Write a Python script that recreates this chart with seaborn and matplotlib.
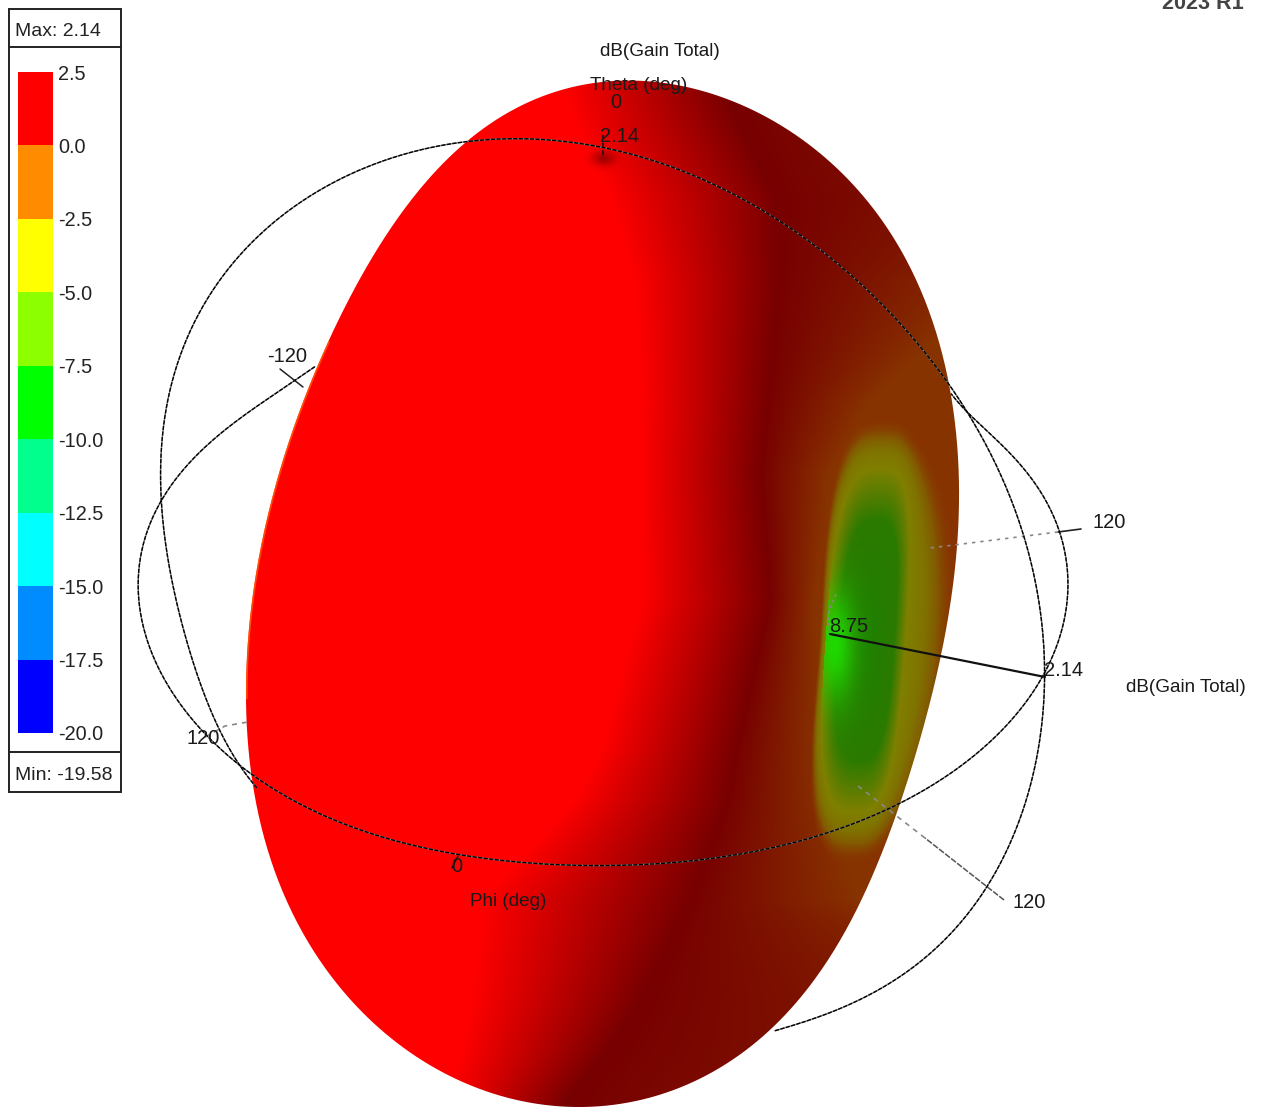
import numpy as np
import matplotlib
matplotlib.use("Agg")
import matplotlib.pyplot as plt
from matplotlib.colors import ListedColormap
from matplotlib.patches import PathPatch, Rectangle
from matplotlib.path import Path
import seaborn as sns

W, H = 1261, 1107

# legend
levels = [2.5, 0.0, -2.5, -5.0, -7.5, -10.0, -12.5, -15.0, -17.5, -20.0]
band_colors = ["#ff0000", "#ff8c00", "#ffff00", "#8cff00", "#00ff00",
               "#00ff8c", "#00ffff", "#008cff", "#0000ff"]
max_label = "Max: 2.14"
min_label = "Min: -19.58"

# silhouette of the gain surface
body_x = [590, 640, 690, 730, 760, 793, 860, 910, 943, 953, 958, 957, 943, 920, 890, 873, 830, 773, 707, 640,
          567, 500, 440, 370, 330, 293, 270, 253, 247, 250, 265, 285, 315, 360, 410, 460, 520, 560]
body_y = [83, 82, 88, 102, 116, 133, 190, 270, 347, 413, 480, 540, 647, 740, 840, 867, 957, 1027, 1077, 1100,
          1107, 1093, 1073, 1020, 970, 918, 860, 790, 700, 620, 530, 450, 370, 280, 205, 145, 105, 87]

# shading bands per row: where red ends, where it is darkest, where it turns brown
shade_y = [80, 115, 200, 280, 400, 470, 600, 750, 800, 900, 1000, 1050, 1090, 1110]
red_end = [560, 570, 610, 633, 640, 640, 640, 600, 573, 480, 470, 460, 450, 450]
dark_x = [720, 735, 776, 777, 767, 760, 770, 735, 727, 690, 640, 607, 573, 560]
brown_x = [1200, 1200, 1200, 1000, 870, 830, 815, 820, 825, 860, 1100, 1200, 1200, 1200]

# wire frame curves
phi_x = [315, 250, 190, 150, 137, 163, 217, 253, 340, 440, 607, 773, 840, 902, 940, 980, 1013, 1045, 1053,
         1069, 1060, 1033, 997, 950]
phi_y = [368, 410, 465, 520, 580, 680, 743, 773, 825, 850, 867, 847, 830, 802, 780, 750, 717, 675, 655,
         587, 530, 483, 440, 395]
theta_x = [253, 218, 197, 170, 162, 172, 205, 270, 350, 450, 510, 560, 603, 693, 793, 877, 947, 983, 1020,
           1043, 1045, 1033, 1010, 970, 920, 840, 773]
theta_y = [788, 723, 680, 570, 480, 380, 300, 225, 175, 145, 138, 140, 147, 175, 230, 300, 380, 440, 523,
           640, 707, 773, 840, 915, 960, 1010, 1030]

number_labels = [("0", 610, 103), ("2.14", 600, 137), ("-120", 267, 356), ("120", 1092, 522), ("8.75", 829, 626),
                 ("2.14", 1044, 670), ("120", 186, 738), ("0", 451, 867), ("120", 1013, 902)]
word_labels = [("dB(Gain Total)", 600, 52), ("Theta (deg)", 590, 86), ("dB(Gain Total)", 1126, 688),
               ("Phi (deg)", 470, 902)]


def smooth(xs, ys, closed=False, n=24):
    # catmull-rom through the read points
    p = np.column_stack([xs, ys]).astype(float)
    if closed:
        p = np.vstack([p[-1], p, p[:2]])
    else:
        p = np.vstack([p[0], p, p[-1]])
    out = []
    t = np.linspace(0, 1, n, endpoint=False)[:, None]
    for i in range(1, len(p) - 2):
        a, b, c, d = p[i - 1], p[i], p[i + 1], p[i + 2]
        out.append(0.5 * (2 * b + (c - a) * t + (2 * a - 5 * b + 4 * c - d) * t ** 2
                          + (3 * b - a - 3 * c + d) * t ** 3))
    return np.vstack(out + [p[-2][None, :]])


def by_length(c, n=720):
    s = np.r_[0, np.cumsum(np.hypot(*np.diff(c, axis=0).T))]
    t = np.linspace(0, s[-1], n)
    return np.column_stack([np.interp(t, s, c[:, 0]), np.interp(t, s, c[:, 1])])


def closed_outline(xs, ys, keep=6):
    # drop the wiggle of hand read points
    c = by_length(smooth(xs, ys, closed=True))[:-1]
    z = np.fft.fft(c[:, 0] + 1j * c[:, 1])
    f = np.abs(np.fft.fftfreq(len(c), 1 / len(c)))
    z[f > keep] = 0
    z = np.fft.ifft(z)
    return np.column_stack([z.real, z.imag])


def open_curve(xs, ys, deg=11):
    c = by_length(smooth(xs, ys))
    t = np.linspace(-1, 1, len(c))
    cheb = np.polynomial.chebyshev
    return np.column_stack([cheb.chebval(t, cheb.chebfit(t, c[:, 0], deg)),
                            cheb.chebval(t, cheb.chebfit(t, c[:, 1], deg))])


def shaded_surface():
    X, Y = np.meshgrid(np.arange(W), np.arange(H))
    re = np.interp(Y, shade_y, red_end)
    dk = np.interp(Y, shade_y, dark_x)
    br = np.interp(Y, shade_y, brown_x)
    s1 = np.clip((X - re) / (dk - re), 0, 1)[..., None]
    s2 = np.clip((X - dk) / (br - dk), 0, 1)[..., None]
    red, dark, brown = np.array([1, 0, 0.]), np.array([.47, 0, 0.]), np.array([.53, .2, 0.])
    img = red * (1 - s1) + dark * s1
    img = img * (1 - s2) + brown * s2

    # the null of the pattern: hard edge on the left, long olive fade on the right
    cx = 868 - (Y - 640) * 0.07
    left = X < cx
    dx = (X - cx) / np.where(left, 43, 37)
    dy = (Y - 640) / 172
    R = (np.abs(dx) ** 3 + np.abs(dy) ** 3) ** (1 / 3) + 1e-6
    wx = (dx ** 2 / (dx ** 2 + dy ** 2 + 1e-9)) ** 3
    fade = wx * np.where(left, .15, 1.35) + (1 - wx) * .3
    F = np.clip((R - 1) / fade, 0, None)
    r = np.where(R < 1, np.interp(R, [0, .7, 1], [.12, .17, .5]), np.interp(F, [0, .35, 1], [.5, .5, .53]))
    g = np.where(R < 1, np.interp(R, [0, .7, 1], [.5, .48, .5]), np.interp(F, [0, .35, 1], [.5, .45, .2]))
    w = np.clip((1 - F) / .4, 0, 1)[..., None]
    img = img * (1 - w) + np.dstack([r, g, np.zeros_like(r)]) * w
    # bright green patch
    glow = np.exp(-((X - 834) / 20.) ** 2 - ((Y - 645) / 55.) ** 2)[..., None] * (R < 1.0)[..., None]
    img = img * (1 - glow) + np.array([.12, .85, 0.]) * glow
    # feed dimple near theta 0
    spot = .65 * np.exp(-((X - 603) / 11.) ** 2 - ((Y - 158) / 7.) ** 2)[..., None]
    img = img * (1 - spot) + dark * spot
    return np.clip(img, 0, 1)


sns.set_theme(style="white")
plt.rcParams["font.family"] = ["Liberation Sans", "DejaVu Sans"]

fig = plt.figure(figsize=(W / 100, H / 100), dpi=100)
ax = fig.add_axes([0, 0, 1, 1])
ax.set_xlim(0, W)
ax.set_ylim(H, 0)
ax.axis("off")

outline = closed_outline(body_x, body_y)
im = ax.imshow(shaded_surface(), extent=(0, W, H, 0), aspect="auto", zorder=2, interpolation="bilinear")
clip = PathPatch(Path(np.vstack([outline, outline[:1]])), transform=ax.transData, fc="none", ec="none")
ax.add_patch(clip)
im.set_clip_path(clip)

# orange fringe on the upper left flank
flank = outline[(outline[:, 0] < 330) & (outline[:, 1] > 340) & (outline[:, 1] < 700)]
flank = flank[np.argsort(flank[:, 1])]
ax.plot(flank[:, 0], flank[:, 1], color="#ff6a00", lw=2.4, alpha=.7, zorder=2.1, clip_path=clip)

for xs, ys in [(phi_x, phi_y), (theta_x, theta_y)]:
    c = open_curve(xs, ys)
    ax.plot(c[:, 0], c[:, 1], color="#808080", lw=1.0, zorder=3)
    ax.plot(c[:, 0], c[:, 1], color="black", lw=1.0, ls=(0, (3, 1)), zorder=3.1)

# axis ticks
ax.plot([1081, 1058], [529, 532], color="#222222", lw=1.2, zorder=3)
ax.plot([1058, 930], [532, 548], color="#888888", lw=1.2, ls=(0, (2, 3)), zorder=3)
ax.plot([1004, 925], [900, 838], color="#555555", lw=1.1, ls=(0, (4, 1)), zorder=3)
ax.plot([925, 858], [838, 786], color="#888888", lw=1.2, ls=(0, (3, 3)), zorder=3)
ax.plot([205, 225, 248], [737, 726, 722], color="#888888", lw=1.2, ls=(0, (3, 3)), zorder=3)
ax.plot([280, 303], [369, 387], color="#222222", lw=1.1, zorder=3)
ax.plot([830, 1045], [634, 677], color="#111111", lw=1.6, zorder=3.2)
ax.plot([603, 603], [135, 157], color="#111111", lw=1.1, ls=(0, (3, 2)), zorder=3.2)
ax.plot([836, 829, 829], [594, 610, 630], color="#888888", lw=1.1, ls=(0, (2, 2)), zorder=3)
ax.plot([458, 452], [856, 868], color="#111111", lw=1.0, zorder=3.2)

for txt, x, y in number_labels:
    ax.text(x, y, txt, fontsize=14.5, color="#1a1a1a", ha="left", va="center", zorder=4)
for txt, x, y in word_labels:
    ax.text(x, y, txt, fontsize=13.6, color="#1a1a1a", ha="left", va="center", zorder=4)

ax.text(1162, 9, "2023 R1", fontsize=15.6, fontweight="bold", color="#444444", ha="left", va="baseline",
        zorder=4)

# legend box
ax.add_patch(Rectangle((8.5, 8.5), 112, 783, fc="white", ec="#222222", lw=1.4, zorder=1))
ax.plot([8.5, 120.5], [47, 47], color="#222222", lw=1.4, zorder=2)
ax.plot([8.5, 120.5], [752, 752], color="#222222", lw=1.4, zorder=2)
ax.text(15, 32, max_label, fontsize=14, color="#222222", va="center", zorder=4)
ax.text(15, 775, min_label, fontsize=14, color="#222222", va="center", zorder=4)

cax = fig.add_axes([18 / W, 1 - 733 / H, 35 / W, 661 / H])
band_index = np.arange(len(band_colors)).reshape(-1, 1)
sns.heatmap(band_index, ax=cax, cmap=ListedColormap(band_colors), cbar=False,
            xticklabels=False, yticklabels=False)
cax.set_xticks([])
cax.set_yticks(np.arange(len(levels)))
cax.set_yticklabels([f"{v:.1f}" for v in levels], fontsize=14.3, color="#222222")
cax.tick_params(axis="y", left=False, right=False, length=0, labelleft=False, labelright=True, pad=3.6)
for lab in cax.get_yticklabels():
    lab.set_rotation(0)

fig.savefig("out.png", dpi=100)
